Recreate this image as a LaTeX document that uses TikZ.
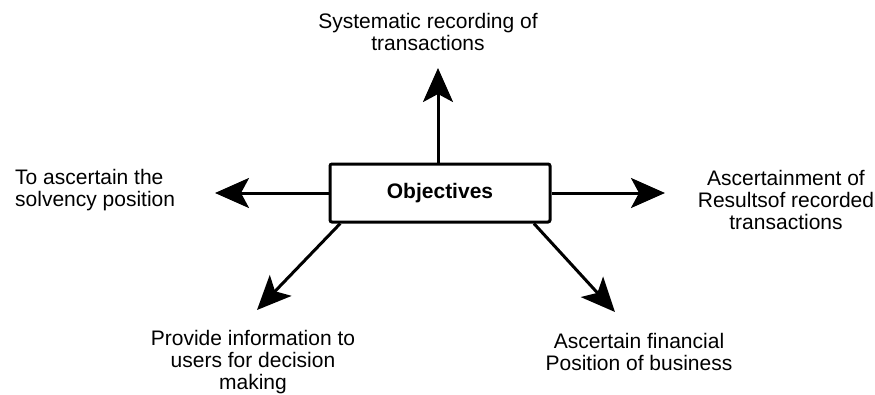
\documentclass[tikz,border=0pt]{standalone}
\usepackage{fontspec}
\setmainfont{Liberation Sans}
\usetikzlibrary{arrows.meta}

\begin{document}
\begin{tikzpicture}[x=1pt, y=1pt,
	goal/.style = {font=\fontsize{21}{22}\selectfont, inner sep=0pt, align=center},
	objbox/.style = {draw, line width=3pt, rounded corners=2pt, minimum width=220, minimum height=58,
		font=\fontsize{21}{22}\selectfont\bfseries},
	link/.style = {line width=3pt, -{Stealth[length=34pt, width=30pt, inset=8pt]}}]
	\useasboundingbox (0,0) rectangle (875,-394);
	      	\node[objbox] (obj) at (440,-193) {Objectives};
	      	\node[goal] (rec) at (428,-32) {Systematic recording of\\transactions};
	      	\node[goal, align=left, anchor=west] (solv) at (15,-190) {To ascertain the\\solvency position};
	      	\node[goal] (res) at (786,-200) {Ascertainment of\\Resultsof recorded\\transactions};
	      	\node[goal] (info) at (253,-362) {Provide information to\\users for decision\\making};
	      	\node[goal] (fin) at (639,-352) {Ascertain financial\\Position of business};
	      	\coordinate (tRec) at (438,-68);
	      	\coordinate (tSolv) at (215,-193);
	      	\coordinate (tRes) at (665,-193);
	      	\coordinate (tInfo) at (257,-310);
	      	\coordinate (tFin) at (615,-312);
	      	\draw[link] (obj.north -| tRec) -- (tRec);
	      	\draw[link] (obj.west) -- (tSolv);
	      	\draw[link] (obj.east) -- (tRes);
	      	\draw[link] (obj.197) -- (tInfo);
	      	\draw[link] (obj.-18) -- (tFin);
	      \end{tikzpicture}
\end{document}
